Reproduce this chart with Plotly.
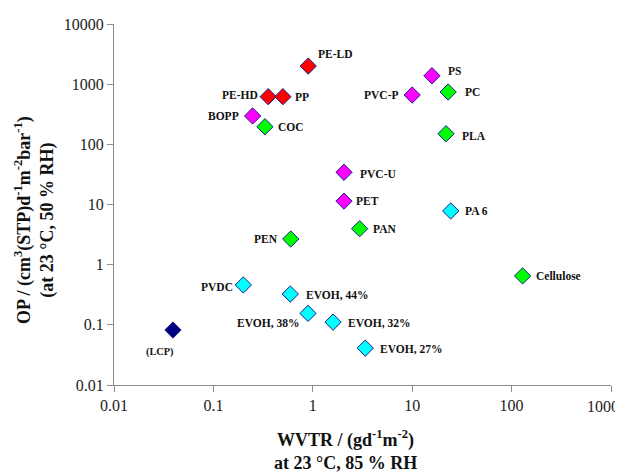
import numpy as np
import plotly.graph_objects as go

# ---- data ----
names = ["PE-LD", "PE-HD", "PP", "BOPP", "COC", "PS", "PVC-P", "PC", "PLA",
         "PVC-U", "PET", "PA 6", "PAN", "PEN", "Cellulose", "PVDC",
         "EVOH, 44%", "EVOH, 38%", "EVOH, 32%", "EVOH, 27%", "(LCP)"]
wvtr = [0.90, 0.356, 0.50, 0.248, 0.33, 15.8, 10.0, 23.0, 21.9,
        2.06, 2.06, 24.4, 2.96, 0.60, 129.0, 0.20,
        0.594, 0.895, 1.60, 3.37, 0.0392]
op = [2000, 620, 620, 296, 196, 1380, 660, 740, 150,
      34.3, 11.4, 7.8, 3.96, 2.67, 0.65, 0.46,
      0.325, 0.155, 0.111, 0.041, 0.082]
group = ["red", "red", "red", "magenta", "green", "magenta", "magenta", "green", "green",
         "magenta", "magenta", "cyan", "green", "green", "green", "cyan",
         "cyan", "cyan", "cyan", "cyan", "navy"]

x_ticks = [0.01, 0.1, 1, 10, 100, 1000]
x_tick_labels = ["0.01", "0.1", "1", "10", "100", "1000"]
y_ticks = [0.01, 0.1, 1, 10, 100, 1000, 10000]
y_tick_labels = ["0.01", "0.1", "1", "10", "100", "1000", "10000"]

# ---- styles ----
colors = {"red": "#FF0000", "magenta": "#FF00FF", "green": "#00FF00",
          "cyan": "#00FFFF", "navy": "#000080"}
# label placement: (anchor, xshift px, yshift px)
label_pos = {
    "PE-LD": ("left", 8, 12), "PE-HD": ("right", -8, 2), "PP": ("left", 10, 0),
    "BOPP": ("right", -12, 0), "COC": ("left", 11, 0), "PS": ("left", 14, 5),
    "PVC-P": ("right", -11, 0), "PC": ("left", 15, 0), "PLA": ("left", 14, -2),
    "PVC-U": ("left", 14, -2), "PET": ("left", 10, 0), "PA 6": ("left", 12, 0),
    "PAN": ("left", 11, 0), "PEN": ("right", -11, 0), "Cellulose": ("left", 11, 0),
    "PVDC": ("right", -8, -2), "EVOH, 44%": ("left", 14, -1),
    "EVOH, 38%": ("right", -7, -10), "EVOH, 32%": ("left", 13, -1),
    "EVOH, 27%": ("left", 13, -1), "(LCP)": ("center", -13, -22),
}
FONT = "Liberation Serif"
AX = "#8c8c8c"
TICKFONT = dict(family=FONT, size=16, color="#222222")

fig = go.Figure()
for g in ["red", "magenta", "green", "cyan", "navy"]:
    idx = [i for i, gg in enumerate(group) if gg == g]
    fig.add_trace(go.Scatter(
        x=[wvtr[i] for i in idx], y=[op[i] for i in idx], mode="markers",
        marker=dict(symbol="diamond", size=12.5, color=colors[g],
                    line=dict(color="#1a1a8c", width=1)),
        showlegend=False, hoverinfo="skip"))

for n, xv, yv in zip(names, wvtr, op):
    anc, dx, dy = label_pos[n]
    fig.add_annotation(x=np.log10(xv), y=np.log10(yv), xref="x", yref="y",
                       text="<b>%s</b>" % n, showarrow=False,
                       xanchor=anc, yanchor="middle", xshift=dx, yshift=dy,
                       font=dict(family=FONT, size=11.5 if n != "(LCP)" else 10.3,
                                 color="#111111"))

# last x tick label sits flush with the right edge (as in the original)
shown_x_labels = x_tick_labels[:-1] + [""]
fig.add_annotation(x=np.log10(x_ticks[-1]), xref="x", y=0, yref="paper",
                   text=x_tick_labels[-1], showarrow=False, xanchor="right",
                   yanchor="middle", xshift=10, yshift=-21, font=TICKFONT)

fig.add_annotation(xref="paper", yref="paper", x=0.465, y=0, yshift=-65,
                   xanchor="center", yanchor="middle", showarrow=False,
                   text="<b>WVTR / (gd<sup>-1</sup>m<sup>-2</sup>)<br>at 23 °C, 85 % RH</b>",
                   font=dict(family=FONT, size=18, color="#111111"))
fig.add_annotation(xref="paper", yref="paper", x=0, xshift=-80, y=0.457,
                   xanchor="center", yanchor="middle", showarrow=False, textangle=-90,
                   text="<b>OP / (cm<sup>3</sup>(STP)d<sup>-1</sup>m<sup>-2</sup>bar<sup>-1</sup>)<br>(at 23 °C, 50 % RH)</b>",
                   font=dict(family=FONT, size=18, color="#111111"))

axcommon = dict(type="log", showgrid=False, zeroline=False, showline=True,
                linecolor=AX, linewidth=1, ticks="outside", tickcolor=AX,
                tickwidth=1, ticklen=6, automargin=False, tickfont=TICKFONT)
fig.update_layout(
    template="none",
    width=615, height=464,
    margin=dict(l=106, r=12, t=16, b=87),
    paper_bgcolor="white", plot_bgcolor="white",
    xaxis=dict(range=[-2, 3], tickvals=x_ticks, ticktext=shown_x_labels, **axcommon),
    yaxis=dict(range=[-2, 4], tickvals=y_ticks, ticktext=y_tick_labels, **axcommon),
    xaxis2=dict(type="log", range=[-2, 3], overlaying="x", anchor="y", side="bottom",
                showgrid=False, zeroline=False, showline=False, ticks="inside",
                tickvals=x_ticks, showticklabels=False, ticklen=5, tickcolor=AX,
                automargin=False),
    yaxis2=dict(type="log", range=[-2, 4], overlaying="y", anchor="x", side="left",
                showgrid=False, zeroline=False, showline=False, ticks="inside",
                tickvals=y_ticks, showticklabels=False, ticklen=5, tickcolor=AX,
                automargin=False),
)
fig.write_html("out.html")
